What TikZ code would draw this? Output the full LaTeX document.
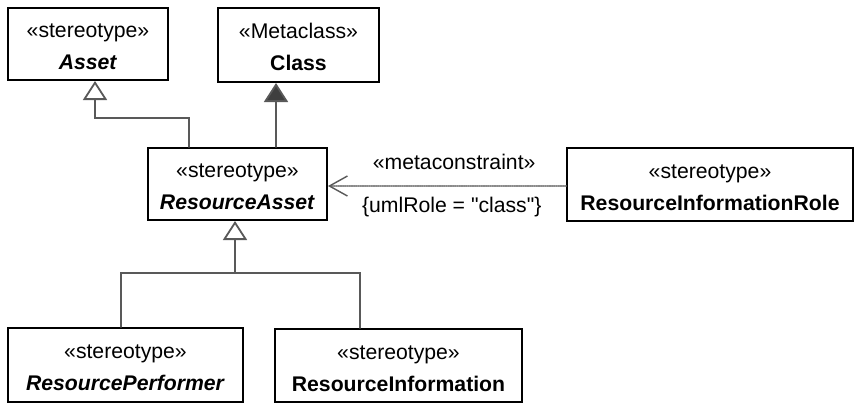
\documentclass[tikz,border=0pt]{standalone}
\usepackage{fontspec}
\setmainfont{Liberation Sans}
\usepackage{tikz}
\usetikzlibrary{arrows.meta,calc}
\definecolor{umlink}{HTML}{000000}
\definecolor{umlline}{HTML}{595959}
\definecolor{umldot}{HTML}{8A8A8A}
\definecolor{umlhead}{HTML}{3F3F3F}
\begin{document}
\begin{tikzpicture}[x=.5pt,y=-.5pt,line cap=round,line join=miter,
  font=\fontsize{10.6}{16}\selectfont,text=umlink,
  stereo/.style={draw=umlink,line width=1pt,fill=white,inner sep=0pt,align=center,
    text height=25.5pt,text depth=0pt},
  link/.style={draw=umlline,line width=.9pt},
  gen/.style={link,-{Triangle[open,length=9.5pt,width=12pt,fill=white]}},
  meta/.style={link,-{Triangle[length=9.5pt,width=12pt,fill=umlhead]}},
  constr/.style={draw=umldot,line width=.8pt,dash pattern=on .6pt off .5pt,
    -{Straight Barb[length=9pt,width=10pt,line width=.7pt,umlline]}},
  tag/.style={inner sep=1pt}]
\path[use as bounding box] (0,0) rectangle (854,403);
\fill[white] (0,0) rectangle (854,403);

% classes
\node[stereo,minimum width=80pt,minimum height=36pt] (asset) at (88,44)
  {«stereotype»\\\textbf{\textit{Asset}}};
\node[stereo,minimum width=80.5pt,minimum height=37pt] (cls) at (298.5,45)
  {«Metaclass»\\\textbf{Class}};
\node[stereo,minimum width=89.5pt,minimum height=36pt] (ra) at (237.5,184)
  {«stereotype»\\\textbf{\textit{ResourceAsset}}};
\node[stereo,minimum width=143pt,minimum height=36.5pt] (rir) at (710,184.5)
  {«stereotype»\\\textbf{ResourceInformationRole}};
\node[stereo,minimum width=117.5pt,minimum height=37pt] (rp) at (125.5,365)
  {«stereotype»\\\textbf{\textit{ResourcePerformer}}};
\node[stereo,minimum width=123.5pt,minimum height=36.5pt] (ri) at (398.5,365.5)
  {«stereotype»\\\textbf{ResourceInformation}};

% generalisations and extension
\coordinate (kneeA) at (95,118);
\coordinate (joint) at (235,273);
\coordinate (raC) at ([xshift=19.25pt]ra.north);
\draw[gen] ([xshift=-24.25pt]ra.north) |- (kneeA) -- (kneeA |- asset.south);
\draw[meta] (raC) -- (raC |- cls.south);
\draw[link] ([xshift=-19.25pt]ri.north) |- (joint);
\draw[gen] ([xshift=-2.25pt]rp.north) |- (joint) -- (joint |- ra.south);

% metaconstraint
\draw[constr] ([yshift=-.75pt]rir.west) -- ([yshift=-.75pt]rir.west -| ra.east)
  node[pos=.47,above=7pt,tag] {«metaconstraint»}
  node[pos=.48,below=4pt,tag] {\{umlRole = \textquotedbl class\textquotedbl\}};
\end{tikzpicture}
\end{document}
